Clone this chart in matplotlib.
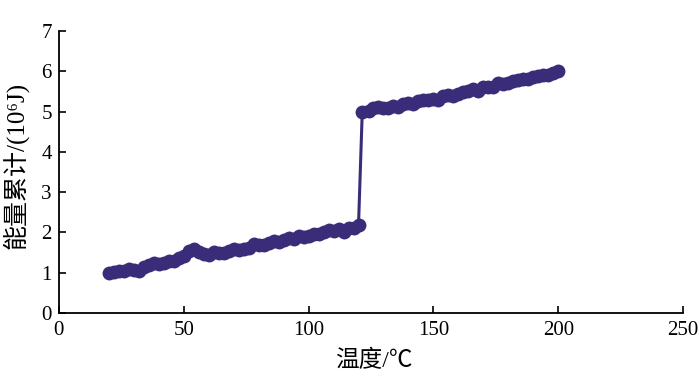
import numpy as np
import matplotlib.pyplot as plt

plt.rcParams['font.family'] = ['Liberation Serif', 'Noto Sans CJK SC']

# 温度 (℃) 与能量累计 (10^6 J)
temp_low = [20, 22, 24, 26, 28, 30, 32, 34, 36, 38, 40, 42, 44, 46, 48, 50,
            52, 54, 56, 58, 60, 62, 64, 66, 68, 70, 72, 74, 76, 78, 80, 82,
            84, 86, 88, 90, 92, 94, 96, 98, 100, 102, 104, 106, 108, 110,
            112, 114, 116, 118, 120]
energy_low = [1.00, 1.02, 1.05, 1.04, 1.08, 1.07, 1.05, 1.15, 1.20, 1.24,
              1.22, 1.25, 1.30, 1.28, 1.36, 1.42, 1.55, 1.60, 1.52, 1.46,
              1.45, 1.52, 1.50, 1.48, 1.55, 1.58, 1.57, 1.60, 1.62, 1.72,
              1.68, 1.70, 1.74, 1.78, 1.77, 1.82, 1.85, 1.84, 1.90, 1.88,
              1.92, 1.95, 1.96, 2.00, 2.05, 2.03, 2.08, 2.02, 2.10, 2.12, 2.18]

temp_high = [121.5, 124, 126, 128, 130, 132, 134, 136, 138, 140, 142, 144,
             146, 148, 150, 152, 154, 156, 158, 160, 162, 164, 166, 168, 170,
             172, 174, 176, 178, 180, 182, 184, 186, 188, 190, 192, 194, 196,
             198, 200]
energy_high = [5.00, 5.02, 5.10, 5.12, 5.10, 5.08, 5.15, 5.12, 5.20, 5.22,
               5.20, 5.26, 5.30, 5.28, 5.32, 5.30, 5.40, 5.42, 5.40, 5.45,
               5.50, 5.52, 5.55, 5.52, 5.60, 5.62, 5.60, 5.70, 5.68, 5.72,
               5.75, 5.78, 5.80, 5.82, 5.85, 5.88, 5.90, 5.92, 5.95, 6.00]

temp = temp_low + temp_high
energy = energy_low + energy_high

color = '#3a2c78'

fig = plt.figure(figsize=(7, 3.84), dpi=100)
ax = fig.add_axes([0.084, 0.185, 0.892, 0.734])

ax.plot(temp, energy, color=color, linewidth=2.2, marker='o',
        markersize=10, markeredgewidth=0)

ax.set_xlim(0, 250)
ax.set_ylim(0, 7)
ax.set_xticks(np.arange(0, 251, 50))
ax.set_yticks(np.arange(0, 8, 1))

ax.spines['top'].set_visible(False)
ax.spines['right'].set_visible(False)
ax.spines['left'].set_linewidth(1.3)
ax.spines['bottom'].set_linewidth(1.3)
ax.tick_params(direction='in', length=5, width=1.2, labelsize=15)
ax.tick_params(axis='x', pad=6)
ax.tick_params(axis='y', pad=5)

ax.set_xlabel('温度/℃', fontsize=17)
ax.set_ylabel('能量累计/(10⁶J)', fontsize=18)
ax.xaxis.set_label_coords(0.505, -0.17)
ax.yaxis.set_label_coords(-0.07, 0.525)
ax.xaxis.label.set_va('center')
ax.yaxis.label.set_va('center')

fig.savefig('out.png', dpi=100)
